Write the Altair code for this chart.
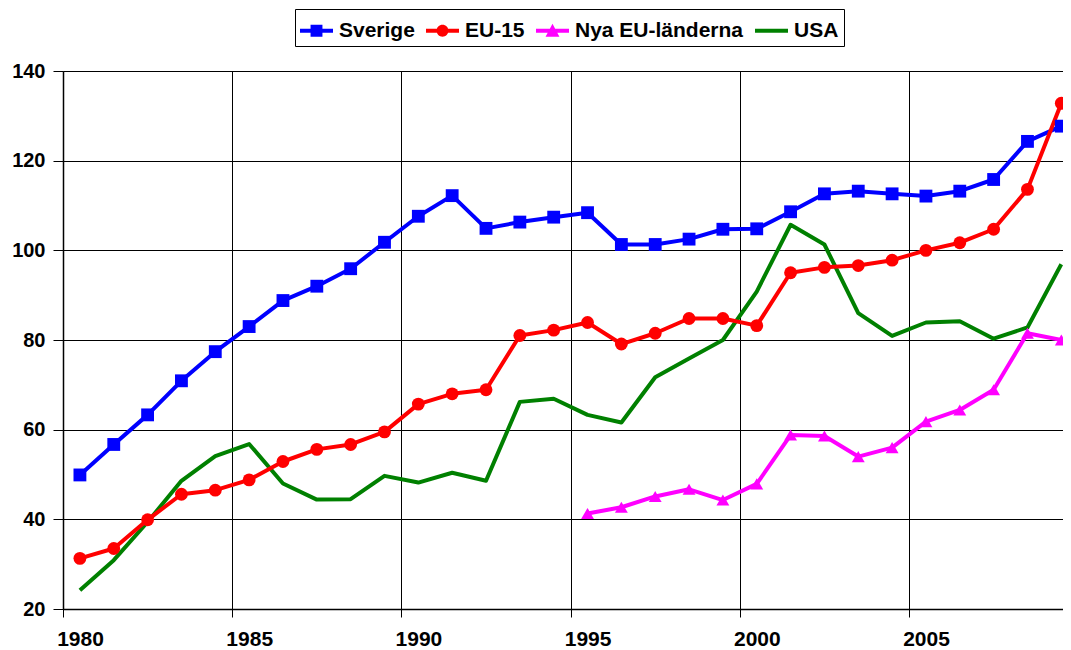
import altair as alt
import pandas as pd

years = list(range(1980, 2010))
sverige = [49.9, 56.7, 63.3, 70.9, 77.4, 83.0, 88.8, 92.0, 95.9, 101.8,
           107.6, 112.2, 104.9, 106.3, 107.4, 108.4, 101.3, 101.3, 102.5, 104.7,
           104.8, 108.6, 112.6, 113.2, 112.6, 112.1, 113.2, 115.8, 124.3, 127.7]
eu15 = [31.3, 33.5, 39.9, 45.6, 46.5, 48.8, 52.9, 55.6, 56.7, 59.5,
        65.7, 68.0, 68.9, 81.0, 82.2, 83.9, 79.1, 81.5, 84.8, 84.8,
        83.2, 95.0, 96.2, 96.6, 97.8, 100.0, 101.7, 104.7, 113.6, 132.8]
nya_years = list(range(1995, 2010))
nya = [41.3, 42.7, 45.1, 46.7, 44.3, 47.9, 58.8, 58.6, 54.0, 56.0,
       61.8, 64.4, 68.9, 81.5, 80.0]
usa = [24.2, 30.9, 39.4, 48.6, 54.1, 56.8, 48.0, 44.4, 44.5, 49.7,
       48.2, 50.4, 48.6, 66.2, 66.9, 63.3, 61.6, 71.7, 75.9, 80.0,
       90.8, 105.7, 101.3, 86.0, 80.9, 83.9, 84.2, 80.3, 82.8, 96.9]

series_names = ["Sverige", "EU-15", "Nya EU-länderna", "USA"]
series_colors = ["#0000FF", "#FF0000", "#FF00FF", "#008000"]
marker_shapes = ["square", "circle", "triangle-up", "circle"]
legend_shapes = [
    "M-1,-0.12H1V0.12H-1Z M-0.36,-0.36H0.36V0.36H-0.36Z",
    "M-1,-0.12H1V0.12H-1Z M0.36,0A0.36,0.36,0,1,1,-0.36,0A0.36,0.36,0,1,1,0.36,0Z",
    "M-1,-0.12H1V0.12H-1Z M0,-0.42L0.42,0.36H-0.42Z",
    "M-1,-0.12H1V0.12H-1Z",
]
x_ticks = [1980, 1985, 1990, 1995, 2000, 2005]
y_ticks = [20, 40, 60, 80, 100, 120, 140]

rows = []
for name, yrs, vals in [("USA", years, usa), ("Sverige", years, sverige),
                        ("EU-15", years, eu15), ("Nya EU-länderna", nya_years, nya)]:
    for yr, v in zip(yrs, vals):
        rows.append({"year": yr, "value": v, "series": name})
df = pd.DataFrame(rows)

FONT = "Liberation Sans"

x_enc = alt.X("xpos:Q",
              scale=alt.Scale(domain=[1980, 2009.55], nice=False, zero=False),
              axis=alt.Axis(values=x_ticks, format="d", title=None, grid=True,
                            labelOffset=17, labelFlush=False, tickSize=8,
                            labelPadding=11, labelFontSize=21))
y_enc = alt.Y("value:Q",
              scale=alt.Scale(domain=[20, 140], nice=False, zero=False),
              axis=alt.Axis(values=y_ticks, title=None, grid=True,
                            tickSize=10, labelPadding=8))

color_scale = alt.Scale(domain=series_names, range=series_colors)

base = alt.Chart(df).transform_calculate(xpos="datum.year + 0.5")

lines = base.mark_line(strokeWidth=4, strokeJoin="round").encode(
    x=x_enc, y=y_enc,
    color=alt.Color("series:N", scale=color_scale, legend=None),
    detail="series:N",
)

points = base.transform_filter("datum.series != 'USA'").mark_point(
    filled=True, size=165, opacity=1
).encode(
    x=x_enc, y=y_enc,
    color=alt.Color("series:N", scale=color_scale, legend=None),
    shape=alt.Shape("series:N", scale=alt.Scale(domain=series_names, range=marker_shapes), legend=None),
)

leg = alt.Legend(orient="none", legendX=232, legendY=-62, direction="horizontal",
                 columns=4, title=None, strokeColor="black", fillColor="white",
                 padding=5, symbolSize=1089, symbolStrokeWidth=0, symbolOpacity=1,
                 labelOffset=6, columnPadding=11, labelFontSize=21, labelLimit=400,
                 labelFontWeight="bold", labelFont=FONT, labelColor="black")

legend_layer = base.transform_filter("false").mark_point(filled=True, size=1089, opacity=1).encode(
    x=x_enc, y=y_enc,
    color=alt.Color("series:N", scale=color_scale, legend=leg),
    shape=alt.Shape("series:N", scale=alt.Scale(domain=series_names, range=legend_shapes), legend=leg),
)

chart = alt.layer(lines, points, legend_layer).resolve_scale(
    color="independent", shape="independent"
).properties(
    width=1000, height=538,
    autosize=alt.AutoSizeParams(type="none"),
    padding={"left": 55, "top": 63, "right": 0, "bottom": 45},
).configure_view(stroke=None).configure_axis(
    labelFont=FONT, labelFontSize=20, labelFontWeight="bold", labelColor="black",
    domainColor="black", domainWidth=1.5, gridColor="black", gridWidth=1, gridOpacity=1,
    tickColor="black", tickWidth=1,
)

chart.save("out.html", embed_options={"renderer": "svg", "actions": False})
